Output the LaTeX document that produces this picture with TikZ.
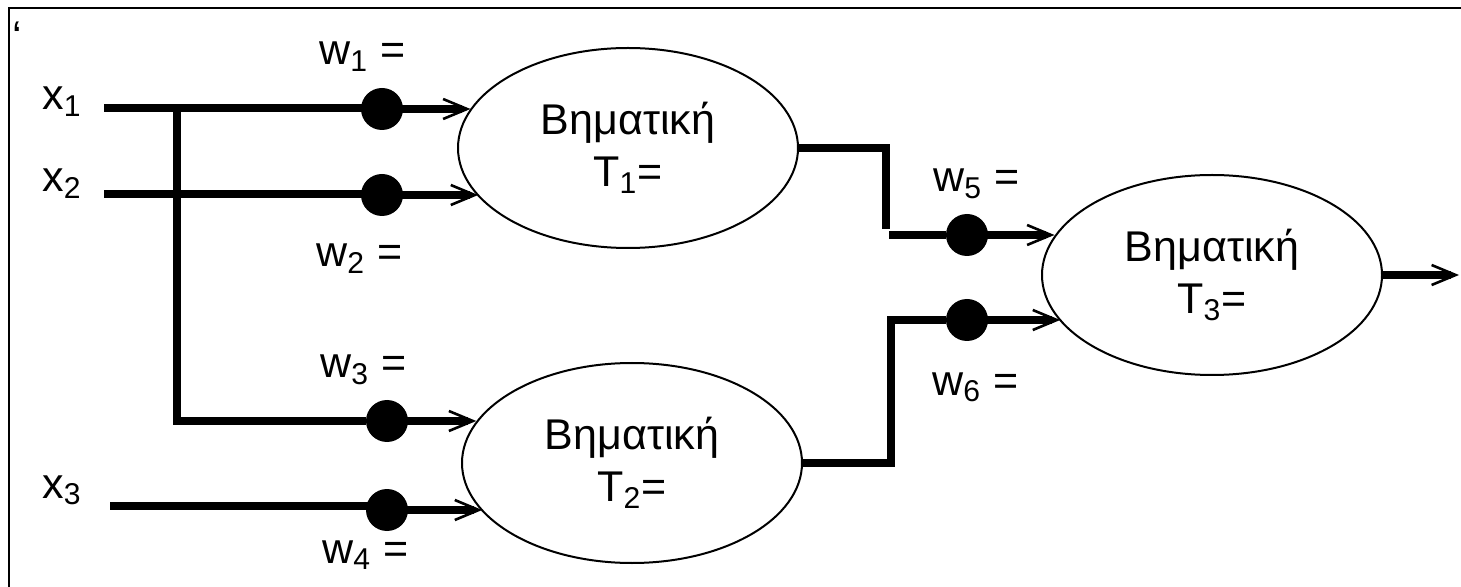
\documentclass[tikz,border=0pt]{standalone}
\usepackage{fontspec}
\setmainfont{Liberation Sans}
\usetikzlibrary{arrows.meta,shapes.geometric}
\newcommand\lblfont{\fontsize{21.5}{26}\selectfont}

\begin{document}
\begin{tikzpicture}[x=0.5pt,y=-0.5pt,
  unit/.style={draw,ellipse,line width=1pt,minimum width=170pt,minimum height=100pt,inner sep=0pt,align=center,font=\lblfont},
  weight/.style={circle,fill,inner sep=0pt,minimum size=21pt},
  wire/.style={line width=3.6pt},
  barb/.style={line width=1.3pt,-{Straight Barb[length=12pt,width=10pt]}},
  lbl/.style={anchor=base west,inner sep=0pt,font=\lblfont}]
\path[use as bounding box] (0,0) rectangle (1461,587);
\draw[line width=1pt] (9,587) -- (9,8) -- (1461,8);
\node[inner sep=0pt,anchor=north west,font=\lblfont] (tick) at (12,22) {\char96};

% threshold units
\node[unit] (step1) at (628,148) {Βηματική\\T\textsubscript{1}=};
\node[unit] (step2) at (632,463) {Βηματική\\T\textsubscript{2}=};
\node[unit] (step3) at (1212,275) {Βηματική\\T\textsubscript{3}=};

% weights
\node[weight] (d1) at (382,109) {};
\node[weight] (d2) at (382,195) {};
\node[weight] (d3) at (387,421) {};
\node[weight] (d4) at (387,510) {};
\node[weight] (d5) at (967,235) {};
\node[weight] (d6) at (967,320) {};

% inputs
\node[lbl] (x1) at (42,110) {x\textsubscript{1}};
\node[lbl] (x2) at (42,192) {x\textsubscript{2}};
\node[lbl] (x3) at (42,498) {x\textsubscript{3}};
\coordinate (in1) at (104,108);
\coordinate (in2) at (104,194);
\coordinate (in3) at (110,506);
\coordinate (bus) at (177,108);
\coordinate (bend1) at (886,229);
\coordinate (start5) at (889,235);
\coordinate (bend2) at (891,320);
\coordinate (out) at (1459,275);

\node[lbl] (w1) at (319,65) {w\textsubscript{1} =};
\node[lbl] (w2) at (316,267) {w\textsubscript{2} =};
\node[lbl] (w3) at (320,378) {w\textsubscript{3} =};
\node[lbl] (w4) at (322,563) {w\textsubscript{4} =};
\node[lbl] (w5) at (933,192) {w\textsubscript{5} =};
\node[lbl] (w6) at (932,395) {w\textsubscript{6} =};

% wiring
\draw[wire] (in1) -- (in1 -| d1);
\draw[wire] (in2) -- (in2 -| d2);
\draw[wire] (in3) -- (in3 -| d4);
\draw[wire] (bus) |- (d3);
\draw[wire] (step1.east) -| (bend1);
\draw[wire] (start5) -- (d5);
\draw[wire] (step2.east) -| (bend2) -- (d6);

% weighted inputs into the units
\foreach \d/\u/\a in {d1/step1/166.8, d2/step1/198.3, d3/step2/165.6,
    d4/step2/198.3, d5/step3/166.4, d6/step3/197.4} {
  \draw[wire] (\d.center) -- ([xshift=-4pt]\d -| \u.\a);
  \draw[barb] (\d.center) -- (\d -| \u.\a);
}
\draw[wire] (step3.east) -- ([xshift=-4pt]out);
\draw[barb] (step3.east) -- (out);
\end{tikzpicture}
\end{document}
